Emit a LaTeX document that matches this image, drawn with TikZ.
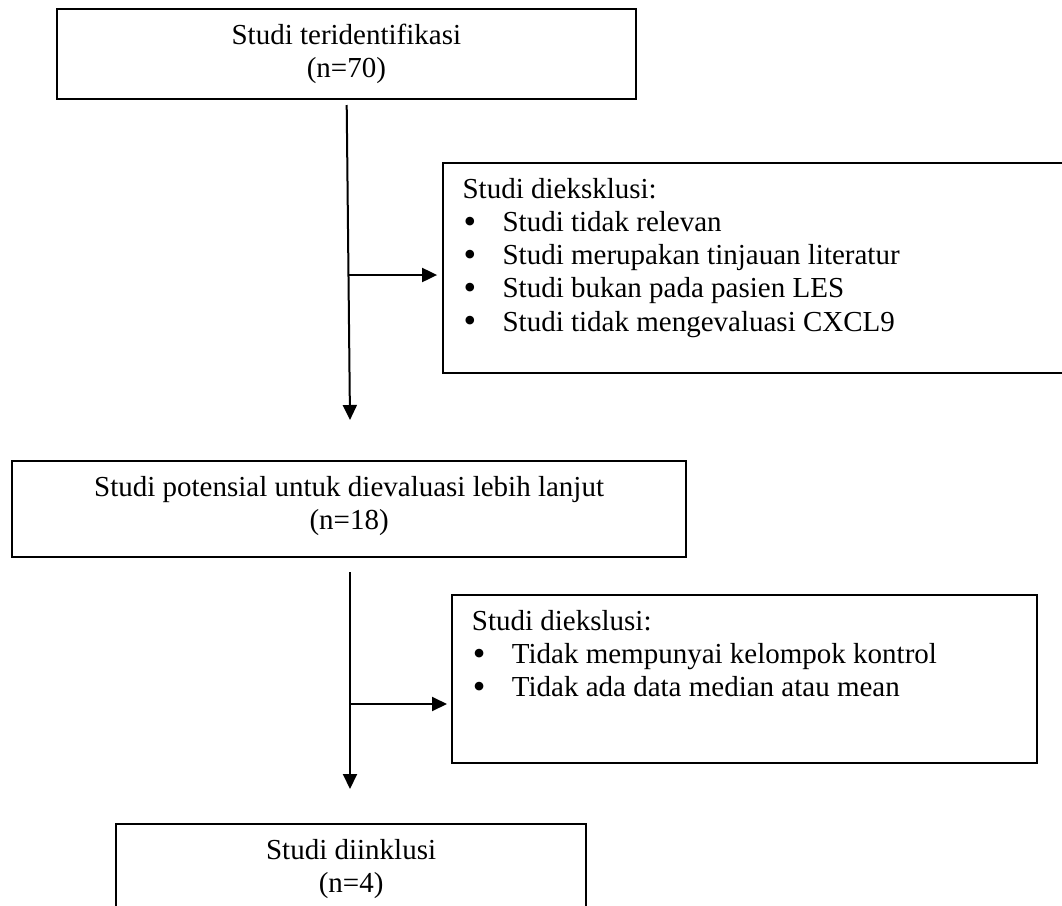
\documentclass[tikz,border=0pt]{standalone}
\usepackage{fontspec}
\setmainfont{Liberation Serif}
\usepackage{tikz}
\usetikzlibrary{positioning, arrows.meta}

\newcommand{\butir}{\par\hspace*{0.5pt}\makebox[19.5pt][l]{\raisebox{-0.8pt}{\fontsize{18}{18}\selectfont\textbullet}}}

\begin{document}
\begin{tikzpicture}[x=0.5pt, y=-0.5pt]
    \tikzstyle{mainbox} = [rectangle, draw=black, line width=1.1pt, anchor=north west, inner xsep=0pt, inner ysep=7.6pt, font=\fontsize{14.5}{16.6}\selectfont]
    \tikzstyle{exclbox} = [rectangle, draw=black, line width=0.9pt, anchor=north west, inner xsep=10pt, inner ysep=7.6pt, font=\fontsize{14.5}{16.6}\selectfont]
    \tikzstyle{arrow} = [line width=1pt, -{Triangle[length=7.5pt, width=7pt]}]

    \useasboundingbox (0,0) rectangle (1062,906);

    % Nodes
    \node (f_ident) [mainbox] at (55.7,7.5) {\parbox[t][30pt][t]{289.6pt}{\centering
        Studi teridentifikasi\\(n=70)}};
    \node (f_excl1) [exclbox] at (441.7,162) {\parbox[t][89.8pt][t]{299pt}{
        Studi dieksklusi:
        \butir Studi tidak relevan
        \butir Studi merupakan tinjauan literatur
        \butir Studi bukan pada pasien LES
        \butir Studi tidak mengevaluasi CXCL9}};
    \node (f_potential) [mainbox] at (11,460) {\parbox[t][32.8pt][t]{337pt}{\centering
        Studi potensial untuk dievaluasi lebih lanjut\\(n=18)}};
    \node (f_excl2) [exclbox] at (451,594) {\parbox[t][68.8pt][t]{272.5pt}{
        Studi diekslusi:
        \butir Tidak mempunyai kelompok kontrol
        \butir Tidak ada data median atau mean}};
    \node (f_incl) [mainbox] at (115,823) {\parbox[t][60pt][t]{235pt}{\centering
        Studi diinklusi\\(n=4)}};

    % Connector points
    \coordinate (c_top1) at (346.7,105);
    \coordinate (c_end1) at (350,420);
    \coordinate (c_side1) at (347.8,275);
    \coordinate (c_top2) at (350,572);
    \coordinate (c_end2) at (350,789);
    \coordinate (c_side2) at (350,704);

    % Arrows
    \draw [arrow] (c_top1) -- (c_end1);
    \draw [arrow] (c_side1) -- ([xshift=-2.3pt]c_side1 -| f_excl1.west);
    \draw [arrow] (c_top2) -- (c_end2);
    \draw [arrow] (c_side2) -- ([xshift=-2pt]c_side2 -| f_excl2.west);
\end{tikzpicture}
\end{document}
